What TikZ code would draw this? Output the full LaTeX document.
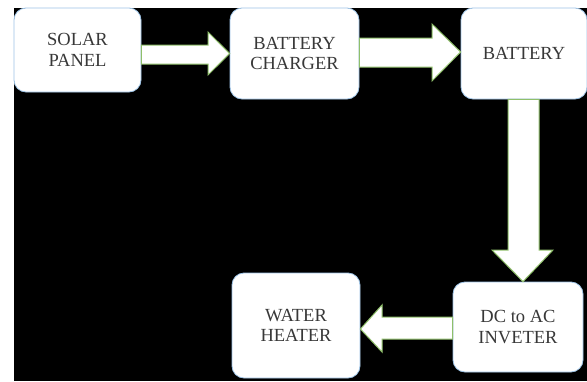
\documentclass[tikz,border=0pt]{standalone}
\usepackage{fontspec}
\setmainfont{Liberation Serif}
\definecolor{boxline}{HTML}{9DC3E6}
\definecolor{arrline}{HTML}{8FBF6A}
\definecolor{txt}{HTML}{383838}
\begin{document}
\begin{tikzpicture}[x=1pt,y=-1pt,
  blk/.style={draw=boxline,line width=0.8pt,fill=white,rounded corners=12pt,
    inner sep=0pt,align=center,text=txt,font=\fontsize{18.5}{20.5}\selectfont},
  bigarrow/.style={draw=arrline,line width=1pt,fill=white,line join=miter}]
\useasboundingbox (0,0) rectangle (587,381);
\fill[white] (0,0) rectangle (587,381);
\fill[black] (14,8) rectangle (587,381);
\node[blk,minimum width=127pt,minimum height=84pt] (solar) at (77.5,50) {SOLAR\\PANEL};
\node[blk,minimum width=129pt,minimum height=91pt] (charger) at (294.5,53.5) {BATTERY\\CHARGER};
\node[blk,minimum width=126pt,minimum height=91pt] (battery) at (524,53.5) {BATTERY};
\node[blk,minimum width=128pt,minimum height=105pt] (heater) at (296,325.5) {WATER\\HEATER};
\node[blk,minimum width=130pt,minimum height=90pt] (inverter) at (518,327) {DC to AC\\INVETER};
% solar -> charger
\draw[bigarrow] (solar.east |- {(0,45)}) -- (208,45) -- (208,32) -- (charger.west |- {(0,53.5)})
  -- (208,75) -- (208,64) -- (solar.east |- {(0,64)}) -- cycle;
% charger -> battery
\draw[bigarrow] (charger.east |- {(0,38)}) -- (432,38) -- (432,24) -- (battery.west |- {(0,52)})
  -- (432,81) -- (432,67) -- (charger.east |- {(0,67)}) -- cycle;
% battery -> inverter
\draw[bigarrow] (battery.south -| {(508,0)}) -- (508,250) -- (492,250) -- (inverter.north -| {(523,0)})
  -- (553,250) -- (539,250) -- (battery.south -| {(539,0)}) -- cycle;
% inverter -> heater
\draw[bigarrow] (inverter.west |- {(0,317)}) -- (382,317) -- (382,305) -- (heater.east |- {(0,329)})
  -- (382,352) -- (382,339) -- (inverter.west |- {(0,339)}) -- cycle;
\end{tikzpicture}
\end{document}
